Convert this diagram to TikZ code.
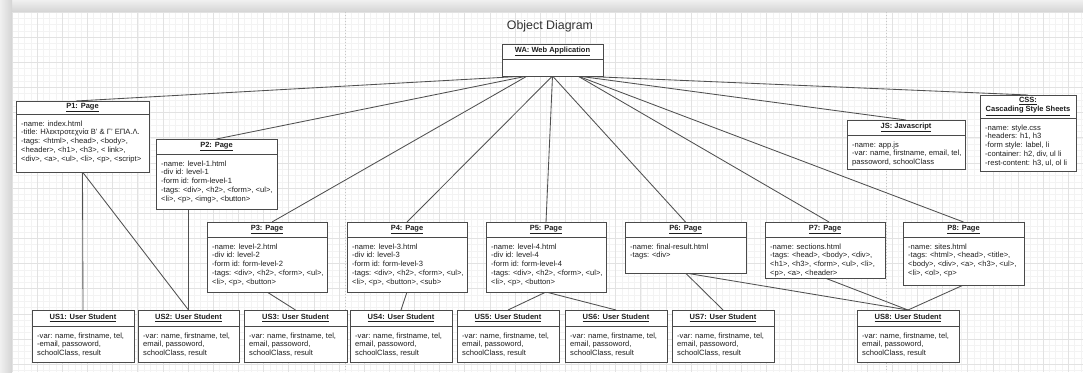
\documentclass[tikz,border=0pt]{standalone}
\usepackage{fontspec}
\setmainfont{Liberation Sans}
\usetikzlibrary{calc}

\definecolor{bandlight}{HTML}{F0F0F0}
\definecolor{banddark}{HTML}{D4D4D4}
\definecolor{gridminor}{HTML}{F3F3F3}
\definecolor{gridmajor}{HTML}{E2E2E2}
\definecolor{boxline}{HTML}{4A4A4A}
\definecolor{linkc}{HTML}{505050}
\definecolor{txt}{HTML}{1E1E1E}
\definecolor{titletxt}{HTML}{333333}

\pgfdeclarelayer{canvas}
\pgfdeclarelayer{links}
\pgfsetlayers{canvas,links,main}

\tikzset{
  objframe/.style={draw=boxline, fill=white, line width=1pt, inner sep=0pt,
                   outer sep=0pt, anchor=north west},
  divider/.style={draw=boxline, line width=0.7pt},
  hdr/.style={font=\fontsize{7.5}{8.9}\selectfont\bfseries, text=txt, inner sep=0pt,
              align=center},
  bodytxt/.style={font=\fontsize{7.6}{8.8}\selectfont, text=txt, inner sep=0pt,
                  align=left, anchor=north west},
  link/.style={draw=linkc, line width=0.85pt},
  titlestyle/.style={font=\fontsize{12.4}{14}\selectfont, text=titletxt, inner sep=0pt},
  minorline/.style={draw=gridminor, line width=0.5pt},
  majorline/.style={draw=gridmajor, line width=0.6pt},
  pagebreak/.style={draw=black!22, line width=0.5pt, dash pattern=on 1.2pt off 1.8pt},
}

% object box: name, x1, y1, x2, y2, y of divider, header, body
\newcommand\objbox[8]{%
  \node[objframe, minimum width={#4-#2}, minimum height={#5-#3}] (#1) at (#2,#3) {};
  \draw[divider] (#1.west |- #2,#6) -- (#1.east |- #4,#6);
  \node[hdr] (#1-h) at ({(#2+#4)/2},{(#3+#6)/2}) {#7};
  \node[bodytxt] (#1-b) at (#2+5,#6+6.4) {#8};
}

\begin{document}
\begin{tikzpicture}[x=1pt,y=-1pt]
\useasboundingbox (0,0) rectangle (1083,372);

% canvas: page with grid and shaded border
\begin{pgfonlayer}{canvas}
\fill[white] (0,0) rectangle (1083,372);
\shade[top color=bandlight, bottom color=banddark] (0,0) rectangle (1083,12);
\shade[left color=bandlight, right color=banddark] (0,0) rectangle (12,372);
\foreach \i in {0,...,170} {
  \draw[minorline] ({12+\i*6.2875},12) -- ({12+\i*6.2875},372);
}
\foreach \i in {0,...,57} {
  \draw[minorline] (12,{12+\i*6.2875}) -- (1083,{12+\i*6.2875});
}
\foreach \i in {0,...,42} {
  \draw[majorline] ({12+\i*25.15},12) -- ({12+\i*25.15},372);
}
\foreach \i in {0,...,14} {
  \draw[majorline] (12,{12+\i*25.15}) -- (1083,{12+\i*25.15});
}
\draw[pagebreak] (345,12) -- (345,372);
\draw[pagebreak] (886,12) -- (886,372);
\end{pgfonlayer}

\node[titlestyle] (title) at (550,26) {Object Diagram};

% objects
\objbox{WA}{502}{44}{603}{76}{59}{\underline{WA: Web Application}}{}

\objbox{P1}{16}{101}{149}{172}{114}{\underline{P1: Page}}{%
-name: index.html\\
-title: Ηλεκτροτεχνία Β' \& Γ' ΕΠΑ.Λ.\\
-tags: <html>, <head>, <body>,\\
<header>, <h1>, <h3>, < link>,\\
<div>, <a>, <ul>, <li>, <p>, <script>}

\objbox{P2}{156}{139}{277}{209}{154}{\underline{P2: Page}}{%
-name: level-1.html\\
-div id: level-1\\
-form id: form-level-1\\
-tags: <div>, <h2>, <form>, <ul>,\\
<li>, <p>, <img>, <button>}

\objbox{P3}{207}{222}{327}{292}{237}{\underline{P3: Page}}{%
-name: level-2.html\\
-div id: level-2\\
-form id: form-level-2\\
-tags: <div>, <h2>, <form>, <ul>,\\
<li>, <p>, <button>}

\objbox{P4}{347}{222}{467}{292}{237}{\underline{P4: Page}}{%
-name: level-3.html\\
-div id: level-3\\
-form id: form-level-3\\
-tags: <div>, <h2>, <form>, <ul>,\\
<li>, <p>, <button>, <sub>}

\objbox{P5}{486}{222}{606}{292}{237}{\underline{P5: Page}}{%
-name: level-4.html\\
-div id: level-4\\
-form id: form-level-4\\
-tags: <div>, <h2>, <form>, <ul>,\\
<li>, <p>, <button>}

\objbox{P6}{625}{222}{746}{273}{237}{\underline{P6: Page}}{%
-name: final-result.html\\
-tags: <div>}

\objbox{P7}{765}{222}{885}{278}{237}{\underline{P7: Page}}{%
-name: sections.html\\
-tags: <head>, <body>, <div>,\\
<h1>, <h3>, <form>, <ul>, <li>,\\
<p>, <a>, <header>}

\objbox{P8}{903}{222}{1024}{285}{237}{\underline{P8: Page}}{%
-name: sites.html\\
-tags: <html>, <head>, <title>,\\
<body>, <div>, <a>, <h3>, <ul>,\\
<li>, <ol>, <p>}

\objbox{JS}{847}{120}{965}{169}{135}{\underline{JS: Javascript}}{%
-name: app.js\\
-var: name, firstname, email, tel,\\
passoword, schoolClass}

\objbox{CSS}{980}{95}{1076}{171}{118}{\underline{CSS:}\\\underline{Cascading Style Sheets}}{%
-name: style.css\\
-headers: h1, h3\\
-form style: label, li\\
-container: h2, div, ul li\\
-rest-content: h3, ul, ol li}

\objbox{US1}{32}{310}{134}{362}{326}{\underline{US1: User Student}}{%
-var: name, firstname, tel,\\
-email, passoword,\\
schoolClass, result}

\objbox{US2}{138}{310}{239}{362}{326}{\underline{US2: User Student}}{%
-var: name, firstname, tel,\\
email, passoword,\\
schoolClass, result}

\objbox{US3}{244}{310}{347}{362}{326}{\underline{US3: User Student}}{%
-var: name, firstname, tel,\\
email, passoword,\\
schoolClass, result}

\objbox{US4}{350}{310}{452}{362}{326}{\underline{US4: User Student}}{%
-var: name, firstname, tel,\\
email, passoword,\\
schoolClass, result}

\objbox{US5}{457}{310}{559}{362}{326}{\underline{US5: User Student}}{%
-var: name, firstname, tel,\\
email, passoword,\\
schoolClass, result}

\objbox{US6}{565}{310}{667}{362}{326}{\underline{US6: User Student}}{%
-var: name, firstname, tel,\\
email, passoword,\\
schoolClass, result}

\objbox{US7}{672}{310}{774}{362}{326}{\underline{US7: User Student}}{%
-var: name, firstname, tel,\\
email, passoword,\\
schoolClass, result}

\objbox{US8}{857}{310}{959}{362}{326}{\underline{US8: User Student}}{%
-var: name, firstname, tel,\\
email, passoword,\\
schoolClass, result}

\begin{pgfonlayer}{links}
% links from the application to its pages and resources
\coordinate (WAl) at ($(WA.south west)!0.25!(WA.south east)$);
\coordinate (WAr) at ($(WA.south west)!0.75!(WA.south east)$);
\draw[link] (WAl) -- ($(P1.north west)!0.45!(P1.north east)$);
\draw[link] (WAl) -- (P2.north);
\draw[link] (WAl) -- ([xshift=5pt]P3.north);
\draw[link] (WA.south) -- (P4.north);
\draw[link] (WA.south) -- (P5.north);
\draw[link] (WA.south) -- (P6.north);
\draw[link] (WAr) -- ([xshift=4pt]P7.north);
\draw[link] (WAr) -- (P8.north);
\draw[link] (WAr) -- (JS.north);
\draw[link] (WAr) -- (CSS.north);

% links from pages to user students
\draw[link] (P1.south) -- (US1.north);
\draw[link] (P1.south) -- (US2.north);
\draw[link] (US2.north |- P2.south) -- (US2.north);
\draw[link] (P3.south) -- (US3.north);
\draw[link] (P4.south) -- (US4.north);
\draw[link] (P5.south) -- (US5.north);
\draw[link] (P5.south) -- (US6.north);
\draw[link] (P6.south) -- (US7.north);
\draw[link] (P6.south) -- (US8.north);
\draw[link] (P7.south) -- (US8.north);
\draw[link] (P8.south) -- (US8.north);
\end{pgfonlayer}
\end{tikzpicture}
\end{document}
